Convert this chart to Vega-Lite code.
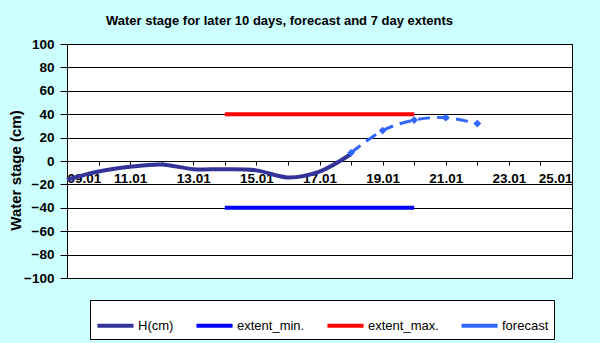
{
  "$schema": "https://vega.github.io/schema/vega-lite/v6.json",
  "autosize": "none",
  "width": 505,
  "height": 234,
  "padding": {"left": 67, "top": 44, "right": 28, "bottom": 65},
  "background": "#ccffff",
  "config": {
    "font": "Liberation Sans",
    "view": {"fill": "white", "stroke": "black", "strokeWidth": 1}
  },
  "title": {
    "text": "Water stage for later 10 days, forecast and 7 day  extents",
    "fontSize": 13,
    "fontWeight": "bold",
    "color": "black",
    "anchor": "middle",
    "dx": -40,
    "offset": 9
  },
  "data": {
    "values": [
      {"series": "H(cm)", "date": "2010-01-09", "value": -16},
      {"series": "H(cm)", "date": "2010-01-10", "value": -9},
      {"series": "H(cm)", "date": "2010-01-11", "value": -5},
      {"series": "H(cm)", "date": "2010-01-12", "value": -3},
      {"series": "H(cm)", "date": "2010-01-13", "value": -7},
      {"series": "H(cm)", "date": "2010-01-14", "value": -7},
      {"series": "H(cm)", "date": "2010-01-15", "value": -8},
      {"series": "H(cm)", "date": "2010-01-16", "value": -14},
      {"series": "H(cm)", "date": "2010-01-17", "value": -9},
      {"series": "H(cm)", "date": "2010-01-18", "value": 6},
      {"series": "extent_min.", "date": "2010-01-14", "value": -40},
      {"series": "extent_min.", "date": "2010-01-20", "value": -40},
      {"series": "extent_max.", "date": "2010-01-14", "value": 40},
      {"series": "extent_max.", "date": "2010-01-20", "value": 40},
      {"series": "forecast", "date": "2010-01-18", "value": 7},
      {"series": "forecast", "date": "2010-01-19", "value": 26},
      {"series": "forecast", "date": "2010-01-20", "value": 35},
      {"series": "forecast", "date": "2010-01-21", "value": 37},
      {"series": "forecast", "date": "2010-01-22", "value": 32}
    ]
  },
  "encoding": {
    "x": {
      "field": "date",
      "type": "temporal",
      "scale": {"type": "utc", "domain": ["2010-01-09", "2010-01-25"]},
      "axis": {
        "title": null,
        "orient": "bottom",
        "offset": -117,
        "grid": false,
        "domain": true,
        "domainColor": "black",
        "tickColor": "black",
        "tickSize": 4,
        "tickCount": {"interval": "day", "step": 1},
        "labelExpr": "utcdate(datum.value) % 2 == 1 ? utcFormat(datum.value, '%d.%m') : ''",
        "labelOverlap": false,
        "labelFont": "Liberation Sans",
        "labelFontSize": 13.5,
        "labelFontWeight": "bold",
        "labelColor": "black",
        "labelPadding": 6
      }
    },
    "y": {
      "field": "value",
      "type": "quantitative",
      "scale": {"domain": [-100, 100], "nice": false, "zero": false},
      "axis": {
        "title": "Water stage (cm)",
        "titleFontSize": 15,
        "titleFontWeight": "bold",
        "titleColor": "black",
        "titlePadding": 0,
        "titleY": 126,
        "values": [-100, -80, -60, -40, -20, 0, 20, 40, 60, 80, 100],
        "grid": true,
        "gridColor": "black",
        "gridOpacity": 1,
        "domainColor": "black",
        "tickColor": "black",
        "tickSize": 7,
        "labelFontSize": 13.5,
        "labelFontWeight": "bold",
        "labelColor": "black",
        "labelPadding": 6
      }
    },
    "color": {
      "field": "series",
      "type": "nominal",
      "scale": {
        "domain": ["H(cm)", "extent_min.", "extent_max.", "forecast"],
        "range": ["#333399", "#0000ff", "#ff0000", "#3366ff"]
      },
      "legend": {
        "title": null,
        "orient": "none",
        "legendX": 23,
        "legendY": 256,
        "direction": "horizontal",
        "symbolType": "stroke",
        "symbolStrokeWidth": 4,
        "symbolSize": 1300,
        "labelFontSize": 13,
        "labelColor": "black",
        "labelOffset": 2,
        "columnPadding": 14,
        "fillColor": "white",
        "strokeColor": "black",
        "padding": 5
      }
    }
  },
  "layer": [
    {
      "transform": [{"filter": "datum.series == 'H(cm)'"}],
      "mark": {"type": "line", "interpolate": "catmull-rom", "strokeWidth": 4}
    },
    {
      "transform": [{"filter": "datum.series == 'extent_min.' || datum.series == 'extent_max.'"}],
      "mark": {"type": "line", "strokeWidth": 4}
    },
    {
      "transform": [{"filter": "datum.series == 'forecast'"}],
      "mark": {"type": "line", "interpolate": "catmull-rom", "strokeWidth": 3, "strokeDash": [12, 7]}
    },
    {
      "transform": [{"filter": "datum.series == 'forecast'"}],
      "mark": {"type": "point", "shape": "diamond", "filled": true, "size": 60, "opacity": 1}
    }
  ]
}
